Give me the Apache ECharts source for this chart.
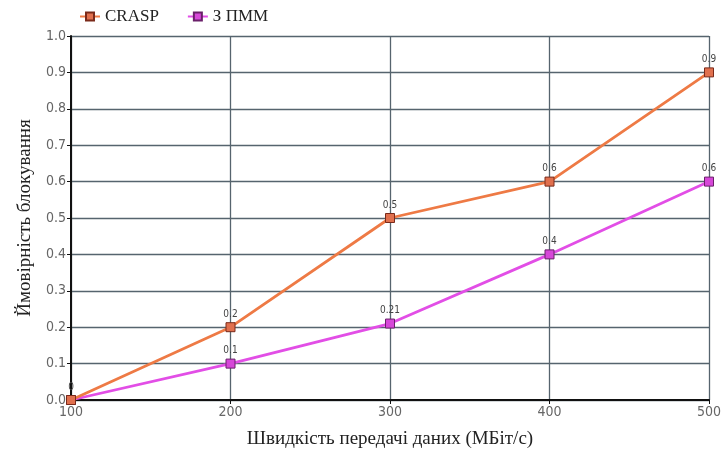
<!DOCTYPE html>
<html>
<head>
<meta charset="utf-8">
<script src="https://cdn.jsdelivr.net/npm/echarts@6/dist/echarts.min.js"></script>
<style>
  html, body { margin: 0; padding: 0; background: #fff; }
  #chart { width: 722px; height: 452px; }
</style>
</head>
<body>
<div id="chart"></div>
<script>
const speeds = [100, 200, 300, 400, 500];
const crasp = [0, 0.2, 0.5, 0.6, 0.9];
const zpmm = [0, 0.1, 0.21, 0.4, 0.6];
const seriesNames = ['CRASP', 'З ПММ'];

const chart = echarts.init(document.getElementById('chart'));

const pairs = (vals) => speeds.map((s, i) => [s, vals[i]]);

const tickFont = 'DejaVu Sans Condensed';

const labelStyle = {
  show: true,
  position: 'top',
  distance: 3,
  fontSize: 10,
  color: '#444',
  fontFamily: tickFont,
  formatter: (p) => String(p.value[1])
};

chart.setOption({
  animation: false,
  legend: {
    left: 74,
    top: 3,
    itemWidth: 20,
    itemHeight: 10,
    itemGap: 28,
    textStyle: { fontFamily: 'Liberation Serif', fontSize: 17, color: '#222' },
    data: seriesNames
  },
  grid: { left: 71, right: 13, top: 36, bottom: 52, outerBoundsMode: 'none' },
  xAxis: {
    type: 'value',
    min: 100,
    max: 500,
    interval: 100,
    name: 'Швидкість передачі даних (МБіт/с)',
    nameLocation: 'middle',
    nameGap: 30,
    nameTextStyle: { fontFamily: 'Liberation Serif', fontSize: 19, color: '#222' },
    axisLine: { lineStyle: { color: '#111', width: 2 } },
    axisTick: { show: true, length: 4, lineStyle: { color: '#111' } },
    axisLabel: { fontFamily: tickFont, fontSize: 14, color: '#666', margin: 5 },
    splitLine: { show: true, lineStyle: { color: '#56646e', width: 1.3 } }
  },
  yAxis: {
    type: 'value',
    min: 0,
    max: 1,
    interval: 0.1,
    name: 'Ймовірність блокування',
    nameLocation: 'middle',
    nameGap: 36,
    nameTextStyle: { fontFamily: 'Liberation Serif', fontSize: 19, color: '#222' },
    axisLine: { show: true, lineStyle: { color: '#111', width: 2 } },
    axisTick: { show: true, length: 4, lineStyle: { color: '#111' } },
    axisLabel: {
      fontFamily: tickFont, fontSize: 14, color: '#666', margin: 5,
      formatter: (v) => v.toFixed(1)
    },
    splitLine: { show: true, lineStyle: { color: '#56646e', width: 1.3 } }
  },
  series: [
    {
      name: seriesNames[0],
      type: 'line',
      data: pairs(crasp),
      symbol: 'rect',
      symbolSize: 9,
      lineStyle: { color: '#ee7a45', width: 2.8 },
      itemStyle: { color: '#e0704e', borderColor: '#7a2a1a', borderWidth: 1 },
      label: labelStyle,
      z: 3
    },
    {
      name: seriesNames[1],
      type: 'line',
      data: pairs(zpmm),
      symbol: 'rect',
      symbolSize: 9,
      lineStyle: { color: '#e24ee6', width: 2.8 },
      itemStyle: { color: '#d647d8', borderColor: '#6a206a', borderWidth: 1 },
      label: Object.assign({}, labelStyle, {
        formatter: (p) => (p.dataIndex === 0 ? '' : String(p.value[1]))
      }),
      z: 2
    }
  ]
});
</script>
</body>
</html>
